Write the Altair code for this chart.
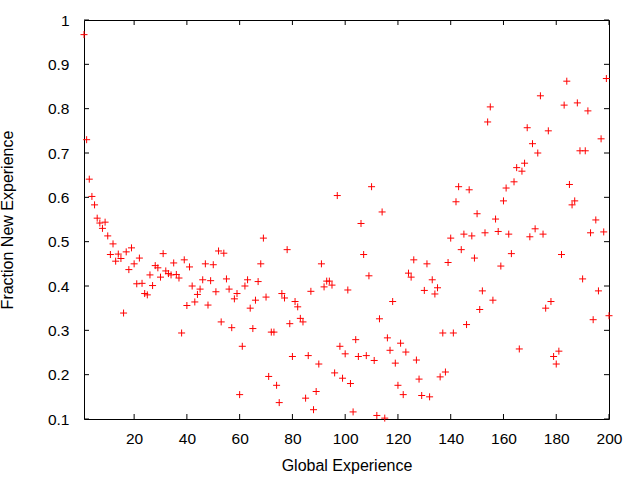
import altair as alt
import pandas as pd

# ---- data ----
global_experience = list(range(1, 201))
fraction_new = [
    0.967, 0.730, 0.641, 0.602, 0.583, 0.553, 0.542, 0.530, 0.544, 0.513,
    0.471, 0.495, 0.456, 0.472, 0.462, 0.339, 0.477, 0.437, 0.486, 0.450,
    0.405, 0.463, 0.406, 0.383, 0.380, 0.425, 0.401, 0.446, 0.441, 0.420,
    0.473, 0.434, 0.428, 0.425, 0.452, 0.426, 0.418, 0.294, 0.459, 0.356,
    0.443, 0.400, 0.364, 0.381, 0.393, 0.414, 0.450, 0.357, 0.412, 0.448,
    0.387, 0.479, 0.319, 0.474, 0.416, 0.393, 0.306, 0.371, 0.383, 0.155,
    0.264, 0.400, 0.414, 0.350, 0.304, 0.368, 0.410, 0.450, 0.508, 0.375,
    0.196, 0.296, 0.296, 0.176, 0.137, 0.383, 0.373, 0.482, 0.315, 0.241,
    0.365, 0.353, 0.327, 0.319, 0.147, 0.243, 0.388, 0.121, 0.162, 0.224,
    0.450, 0.398, 0.411, 0.411, 0.402, 0.204, 0.604, 0.264, 0.192, 0.247,
    0.391, 0.180, 0.116, 0.279, 0.241, 0.541, 0.471, 0.243, 0.423, 0.624,
    0.232, 0.108, 0.326, 0.567, 0.102, 0.283, 0.255, 0.365, 0.226, 0.176,
    0.271, 0.155, 0.251, 0.429, 0.420, 0.459, 0.233, 0.190, 0.153, 0.390,
    0.450, 0.150, 0.414, 0.382, 0.396, 0.195, 0.294, 0.206, 0.453, 0.508,
    0.294, 0.590, 0.624, 0.482, 0.517, 0.313, 0.617, 0.513, 0.463, 0.563,
    0.347, 0.389, 0.520, 0.770, 0.804, 0.368, 0.551, 0.523, 0.445, 0.592,
    0.621, 0.517, 0.473, 0.635, 0.667, 0.258, 0.659, 0.677, 0.757, 0.511,
    0.721, 0.529, 0.700, 0.829, 0.517, 0.350, 0.750, 0.365, 0.241, 0.224,
    0.253, 0.471, 0.808, 0.862, 0.629, 0.583, 0.592, 0.813, 0.705, 0.416,
    0.705, 0.795, 0.520, 0.324, 0.549, 0.389, 0.732, 0.522, 0.868, 0.333,
]
x_ticks = [20, 40, 60, 80, 100, 120, 140, 160, 180, 200]
y_ticks = [0.1, 0.2, 0.3, 0.4, 0.5, 0.6, 0.7, 0.8, 0.9, 1.0]

# ---- layout ----
W, H = 525, 399
TICK = 5
FONT = "Liberation Sans"

df = pd.DataFrame({"x": global_experience, "y": fraction_new})
xt = pd.DataFrame({"x": x_ticks})
yt = pd.DataFrame({"y": y_ticks})

xscale = alt.Scale(domain=[1, 200], nice=False, zero=False)
yscale = alt.Scale(domain=[0.1, 1.0], nice=False, zero=False)

x_axis = alt.Axis(
    values=x_ticks, title="Global Experience", grid=False, domain=False,
    ticks=False, tickSize=0, labelPadding=12, labelFontSize=15.5,
    labelFlush=False, labelOverlap=False,
    titleFontSize=16, titleFontWeight="normal", titleBaseline="alphabetic",
    titleY=51,
)
y_axis = alt.Axis(
    values=y_ticks, format="~g", title="Fraction New Experience", grid=False,
    domain=False, ticks=False, tickSize=0, labelPadding=15, labelFontSize=15.5,
    labelFlush=False, labelOverlap=False,
    titleFontSize=16, titleFontWeight="normal", titleBaseline="alphabetic",
    titleX=-71.5,
)

points = alt.Chart(df).mark_point(
    shape="M-1,0H1M0,-1V1", size=49, filled=False, color="#ff0000",
    strokeWidth=1, opacity=1,
).encode(
    x=alt.X("x:Q", scale=xscale, axis=x_axis),
    y=alt.Y("y:Q", scale=yscale, axis=y_axis),
)

tick_style = dict(color="black", strokeWidth=1)
bottom_ticks = alt.Chart(xt).mark_rule(**tick_style).encode(
    x=alt.X("x:Q", scale=xscale), y=alt.value(H), y2=alt.value(H - TICK)
)
top_ticks = alt.Chart(xt).mark_rule(**tick_style).encode(
    x=alt.X("x:Q", scale=xscale), y=alt.value(0), y2=alt.value(TICK)
)
left_ticks = alt.Chart(yt).mark_rule(**tick_style).encode(
    y=alt.Y("y:Q", scale=yscale), x=alt.value(0), x2=alt.value(TICK)
)
right_ticks = alt.Chart(yt).mark_rule(**tick_style).encode(
    y=alt.Y("y:Q", scale=yscale), x=alt.value(W), x2=alt.value(W - TICK)
)

chart = alt.layer(
    points, bottom_ticks, top_ticks, left_ticks, right_ticks
).properties(
    width=W, height=H,
    autosize=alt.AutoSizeParams(type="none"),
    padding={"left": 84, "top": 20, "right": 31, "bottom": 61},
    background="white",
).configure_view(
    stroke="black", strokeWidth=1
).configure_axis(
    labelFont=FONT, titleFont=FONT, labelColor="black", titleColor="black",
)

chart.save("out.html", embed_options={"renderer": "svg", "actions": False})
